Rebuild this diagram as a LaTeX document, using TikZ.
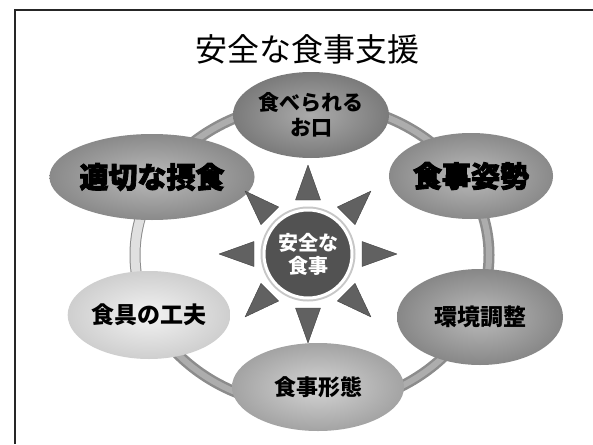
\documentclass[tikz,border=0pt]{standalone}
\usepackage{fontspec}
\setmainfont{Noto Sans CJK JP}
\newfontfamily\heavyfont[BoldFeatures={FakeBold=3}]{Noto Sans CJK JP}
\usetikzlibrary{shapes.geometric}
\tikzset{
  bub/.style n args={4}{ellipse, inner sep=0pt, minimum width=#1, minimum height=#2,
     shading=radial, inner color=#3, outer color=#4},
  bubtext/.style={font=\bfseries\fontsize{22}{25}\selectfont, text=black},
  heavytext/.style={font=\heavyfont\bfseries\fontsize{29}{32}\selectfont, text=black},
  ray/.style={fill=black!62, draw=black!75, line width=0.4pt, line join=round},
  ring/.style={draw=black!45, line width=11pt},
  ringin/.style={draw=black!32, line width=6pt},
}
\begin{document}
\begin{tikzpicture}[x=1pt, y=-1pt]
\useasboundingbox (0,0) rectangle (593,444);
\fill[white] (0,0) rectangle (593,444);
% frame
\draw[line width=1.6pt, black!85] (15,444) -- (15,10) -- (593,10);
% title
\node[font=\fontsize{32}{36}\selectfont] (title) at (307.5,49) {安全な食事支援};
% ring
\coordinate (rc) at (312,255);
\draw[ring] (rc) ellipse [x radius=177, y radius=152];
\draw[ringin] (rc) ellipse [x radius=177, y radius=152];
\draw[draw=black!12, line width=9pt] (rc) ++(160:177 and 152) arc [start angle=160, end angle=205, x radius=177, y radius=152];
% bubbles
\node[bub={156pt}{86pt}{black!33}{black!52}, bubtext, font=\bfseries\fontsize{21}{25}\selectfont, align=center] (mouth) at (311,115) {食べられる\\お口};
\node[bub={180pt}{86pt}{black!27}{black!46}, heavytext] (intake) at (152,177) {適切な摂食};
\node[bub={160pt}{86pt}{black!27}{black!46}, heavytext] (posture) at (471,176) {食事姿勢};
\node[bub={166pt}{96pt}{black!27}{black!47}, bubtext, font=\bfseries\fontsize{23}{26}\selectfont] (env) at (480,317) {環境調整};
\node[bub={172pt}{88pt}{black!17}{black!36}, bubtext] (form) at (318,387) {食事形態};
\node[bub={162pt}{88pt}{black!5}{black!19}, bubtext, font=\bfseries\fontsize{23}{26}\selectfont] (tools) at (149,315) {食具の工夫};
% rays
\foreach \a in {0,45,...,315}{
  \begin{scope}[shift={(308,254)}, rotate=\a]
    \path[ray] (89,0) -- (54,12.5) -- (54,-12.5) -- cycle;
  \end{scope}
}
% center
\fill[black!22] (308,254) circle (47.5);
\node[circle, minimum size=88pt, inner sep=0pt, fill=black!68, draw=white, line width=3pt,
      text=white, font=\bfseries\fontsize{20}{23}\selectfont, align=center] (core) at (308,254) {安全な\\食事};
\end{tikzpicture}
\end{document}
